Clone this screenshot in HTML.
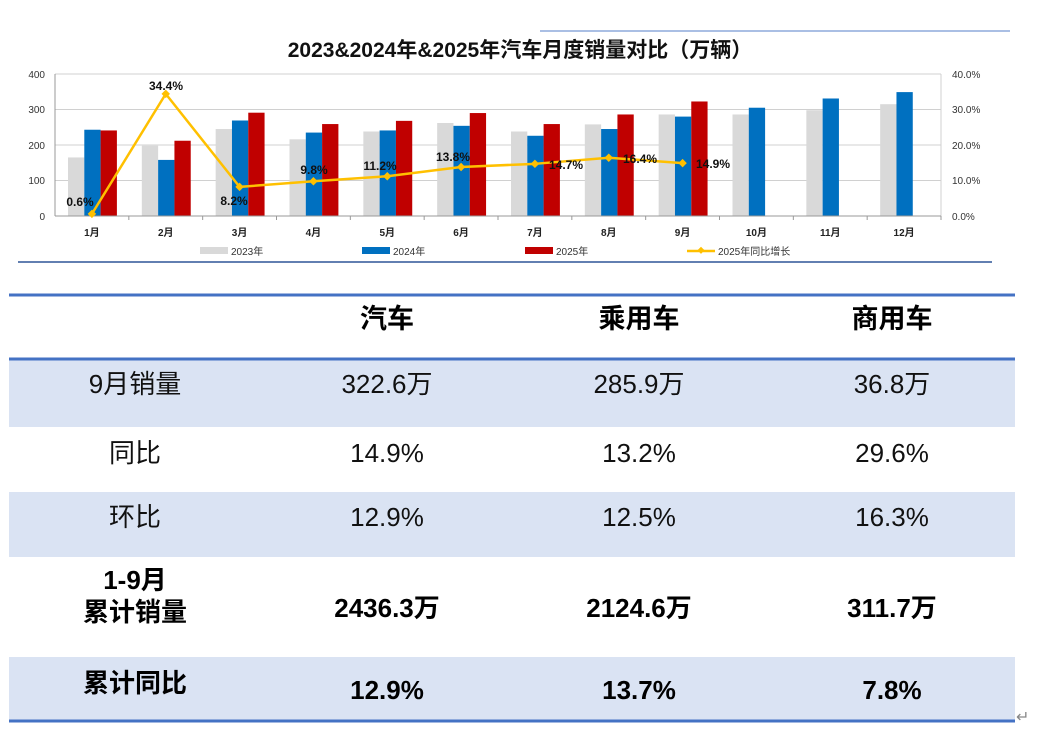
<!DOCTYPE html>
<html><head><meta charset="utf-8"><style>
body{margin:0;background:#fff;}
svg{display:block;font-family:"Liberation Sans","Noto Sans CJK SC",sans-serif;}
</style></head><body>
<svg width="1041" height="756" viewBox="0 0 1041 756">
<line x1="540" y1="31" x2="1010" y2="31" stroke="#8eaadb" stroke-width="1.5"/>
<text x="520" y="57" text-anchor="middle" font-size="21" font-weight="bold" fill="#111">2023&amp;2024年&amp;2025年汽车月度销量对比（万辆）</text>
<g stroke="#d0d0d0" stroke-width="1">
<line x1="55" y1="74" x2="941" y2="74"/><line x1="55" y1="109.5" x2="941" y2="109.5"/>
<line x1="55" y1="145" x2="941" y2="145"/><line x1="55" y1="180.5" x2="941" y2="180.5"/>
<line x1="941" y1="74" x2="941" y2="216"/>
</g>
<g font-size="10" fill="#333" text-anchor="end">
<text x="45" y="78">400</text><text x="45" y="113">300</text><text x="45" y="149">200</text><text x="45" y="184">100</text><text x="45" y="220">0</text>
</g>
<g font-size="10" fill="#333">
<text x="952" y="78">40.0%</text><text x="952" y="113">30.0%</text><text x="952" y="149">20.0%</text><text x="952" y="184">10.0%</text><text x="952" y="220">0.0%</text>
</g>
<g id="bars"></g>
<line x1="55" y1="216" x2="941" y2="216" stroke="#999"/>
<line x1="55" y1="74" x2="55" y2="216" stroke="#999"/>
<g id="ticks" stroke="#999"></g>
<g id="months" font-size="10" font-weight="bold" fill="#222" text-anchor="middle"></g>
<polyline id="gl" fill="none" stroke="#ffc000" stroke-width="2.5" stroke-linejoin="round"/>
<g id="gm" fill="#ffc000"></g>
<g font-size="12" font-weight="bold" fill="#111" text-anchor="middle">
<text x="80" y="206">0.6%</text><text x="166" y="90">34.4%</text><text x="234" y="205">8.2%</text>
<text x="314" y="174">9.8%</text><text x="380" y="170">11.2%</text><text x="453" y="161">13.8%</text>
<text x="566" y="169">14.7%</text><text x="640" y="163">16.4%</text><text x="713" y="168">14.9%</text>
</g>
<g font-size="10" fill="#333">
<rect x="200" y="247" width="28" height="7" fill="#d9d9d9"/><text x="231" y="255">2023年</text>
<rect x="362" y="247" width="28" height="7" fill="#0070c0"/><text x="393" y="255">2024年</text>
<rect x="525" y="247" width="28" height="7" fill="#c00000"/><text x="556" y="255">2025年</text>
<line x1="687" y1="251" x2="715" y2="251" stroke="#ffc000" stroke-width="2.5"/><rect x="698" y="248" width="5" height="5" fill="#ffc000" transform="rotate(45 701 251)"/><text x="718" y="255">2025年同比增长</text>
</g>
<line x1="18" y1="262" x2="992" y2="262" stroke="#2f5597" stroke-width="1.5"/>

<rect x="9" y="359" width="1006" height="68" fill="#dae3f3"/>
<rect x="9" y="492" width="1006" height="65" fill="#dae3f3"/>
<rect x="9" y="657" width="1006" height="64" fill="#dae3f3"/>
<g stroke="#4472c4" stroke-width="3">
<line x1="9" y1="295" x2="1015" y2="295"/><line x1="9" y1="359" x2="1015" y2="359"/><line x1="9" y1="721" x2="1015" y2="721"/>
</g>
<g font-size="27" font-weight="bold" fill="#000" text-anchor="middle">
<text x="387" y="328">汽车</text><text x="639" y="328">乘用车</text><text x="892" y="328">商用车</text>
</g>
<g font-size="26" fill="#111" text-anchor="middle">
<text x="135" y="393">9月销量</text><text x="387" y="393">322.6万</text><text x="639" y="393">285.9万</text><text x="892" y="393">36.8万</text>
<text x="135" y="462">同比</text><text x="387" y="462">14.9%</text><text x="639" y="462">13.2%</text><text x="892" y="462">29.6%</text>
<text x="135" y="526">环比</text><text x="387" y="526">12.9%</text><text x="639" y="526">12.5%</text><text x="892" y="526">16.3%</text>
</g>
<g font-size="26" font-weight="bold" fill="#000" text-anchor="middle">
<text x="135" y="589">1-9月</text><text x="135" y="621">累计销量</text>
<text x="387" y="617">2436.3万</text><text x="639" y="617">2124.6万</text><text x="892" y="617">311.7万</text>
<text x="135" y="692">累计同比</text><text x="387" y="699">12.9%</text><text x="639" y="699">13.7%</text><text x="892" y="699">7.8%</text>
</g>
<text x="1016" y="722" font-size="16" fill="#888">↵</text>
</svg>
<script>
var ns="http://www.w3.org/2000/svg";
var a=[165,198,245,216,238,262,238,258,286,286,298,315];
var b=[243,158,269,235,241,254,226,245,280,305,331,349];
var c=[241,212,291,259,268,290,259,286,322.6];
var g=[0.6,34.4,8.2,9.8,11.2,13.8,14.7,16.4,14.9];
var cw=886/12,bw=16.3,bars=document.getElementById('bars');
function r(x,v,col){var e=document.createElementNS(ns,'rect');var h=v*0.355;e.setAttribute('x',x);e.setAttribute('y',216-h);e.setAttribute('width',bw);e.setAttribute('height',h);e.setAttribute('fill',col);bars.appendChild(e);}
var pts=[],gm=document.getElementById('gm'),tk=document.getElementById('ticks'),mo=document.getElementById('months');
for(var i=0;i<12;i++){var x0=55+i*cw+13;r(x0,a[i],'#d9d9d9');r(x0+bw,b[i],'#0070c0');if(i<9)r(x0+2*bw,c[i],'#c00000');
var cx=55+i*cw+cw/2;
var t=document.createElementNS(ns,'text');t.setAttribute('x',cx);t.setAttribute('y',236);t.textContent=(i+1)+'月';mo.appendChild(t);
var l=document.createElementNS(ns,'line');l.setAttribute('x1',55+(i+1)*cw);l.setAttribute('x2',55+(i+1)*cw);l.setAttribute('y1',216);l.setAttribute('y2',220);tk.appendChild(l);
if(i<9){var y=216-g[i]*3.55;pts.push(cx+','+y);var m=document.createElementNS(ns,'rect');m.setAttribute('x',cx-3);m.setAttribute('y',y-3);m.setAttribute('width',6);m.setAttribute('height',6);m.setAttribute('transform','rotate(45 '+cx+' '+y+')');gm.appendChild(m);}}
document.getElementById('gl').setAttribute('points',pts.join(' '));
</script>
</body></html>
